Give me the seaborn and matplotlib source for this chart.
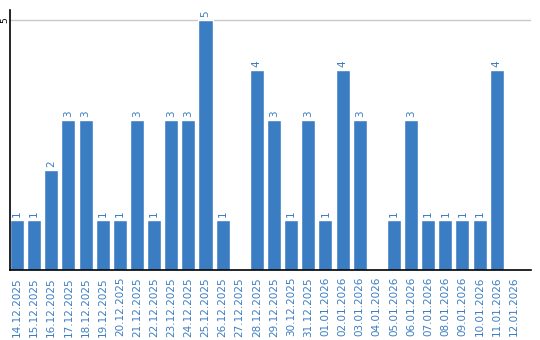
import matplotlib
matplotlib.use("Agg")
import matplotlib.pyplot as plt
import seaborn as sns
import pandas as pd

dates = ["14.12.2025", "15.12.2025", "16.12.2025", "17.12.2025", "18.12.2025",
         "19.12.2025", "20.12.2025", "21.12.2025", "22.12.2025", "23.12.2025",
         "24.12.2025", "25.12.2025", "26.12.2025", "27.12.2025", "28.12.2025",
         "29.12.2025", "30.12.2025", "31.12.2025", "01.01.2026", "02.01.2026",
         "03.01.2026", "04.01.2026", "05.01.2026", "06.01.2026", "07.01.2026",
         "08.01.2026", "09.01.2026", "10.01.2026", "11.01.2026", "12.01.2026"]
values = [1, 1, 2, 3, 3, 1, 1, 3, 1, 3, 3, 5, 1, 0, 4, 3, 1, 3, 1, 4,
          3, 0, 1, 3, 1, 1, 1, 1, 4, 0]
yticks = [5]

BLUE = "#3b7dc3"

sns.set_style("white")
plt.rcParams["font.family"] = ["DejaVu Sans"]

df = pd.DataFrame({"date": dates, "value": values})

fig = plt.figure(figsize=(5.4, 3.4), dpi=100)
ax = fig.add_axes([10 / 540, 70 / 340, 521 / 540, 260 / 340])
sns.barplot(data=df, x="date", y="value", color=BLUE, width=0.82,
            saturation=1, ax=ax)

ax.set_xlim(-0.41, 30.0)
ax.set_ylim(0, 5.2)
ax.set_yticks(yticks)
ax.set_yticklabels([str(v) for v in yticks], rotation=90, va="center",
                   ha="center", fontsize=6.5, color="black")
ax.yaxis.grid(True, color="#c8c8c8", linewidth=1)
ax.set_axisbelow(True)
ax.tick_params(axis="y", length=0, pad=3.8)
ax.tick_params(axis="x", length=0, pad=5)
ax.set_xticks(range(len(dates)))
ax.set_xticklabels(dates, rotation=90, fontsize=7.5, color=BLUE)
ax.set_xlabel("")
ax.set_ylabel("")

for s in ["top", "right"]:
    ax.spines[s].set_visible(False)
for s in ["left", "bottom"]:
    ax.spines[s].set_color("black")
    ax.spines[s].set_linewidth(1.2)

cont = ax.containers[0]
labels = [str(v) if v > 0 else "" for v in values]
ax.bar_label(cont, labels=labels, rotation=90, padding=2, fontsize=7.5,
             color=BLUE)

fig.savefig("out.png", dpi=100)
